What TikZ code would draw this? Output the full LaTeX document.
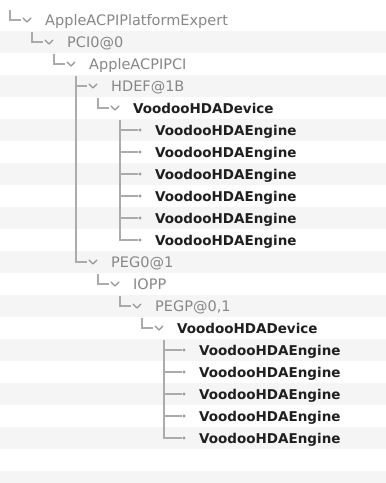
\documentclass[tikz,border=0pt]{standalone}
\usepackage{fontspec}
\setmainfont{DejaVu Sans}
\begin{document}
\begin{tikzpicture}[x=1pt,y=-1pt]
	\tikzstyle{item}=[anchor=west,inner sep=0pt,text height=10pt,text depth=0pt,text=black!47,font=\fontsize{14.5}{16}\selectfont]
	\tikzstyle{itembold}=[item,text=black!88,font=\fontsize{13.5}{16}\selectfont\bfseries]
	\tikzstyle{branch}=[draw=black!33,line width=1.3pt]
	\tikzstyle{chev}=[draw=black!42,line width=1.3pt,line join=round,line cap=round]
	\tikzstyle{dot}=[fill=black!40]
	% background and row stripes
	\fill[white] (0,0) rectangle (386,483);
	\useasboundingbox (0,0) rectangle (386,483);
	\foreach \k in {1,3,...,19}
		\fill[black!4] (0,{9+22*\k}) rectangle (386,{31+22*\k});
	\fill[black!4] (0,471) rectangle (386,483);
	% entries
	\node[item](ape) at (45,20) {AppleACPIPlatformExpert};
	\node[item](pci) at (67,42) {PCI0@0};
	\node[item](acpipci) at (89,64) {AppleACPIPCI};
	\node[item](hdef) at (111,86) {HDEF@1B};
	\node[itembold](dev1) at (133,108) {VoodooHDADevice};
	\node[itembold](e1) at (155,130) {VoodooHDAEngine};
	\node[itembold](e2) at (155,152) {VoodooHDAEngine};
	\node[itembold](e3) at (155,174) {VoodooHDAEngine};
	\node[itembold](e4) at (155,196) {VoodooHDAEngine};
	\node[itembold](e5) at (155,218) {VoodooHDAEngine};
	\node[itembold](e6) at (155,240) {VoodooHDAEngine};
	\node[item](peg) at (111,262) {PEG0@1};
	\node[item](iopp) at (133,284) {IOPP};
	\node[item](pegp) at (155,306) {PEGP@0,1};
	\node[itembold](dev2) at (177,328) {VoodooHDADevice};
	\node[itembold](f1) at (199,350) {VoodooHDAEngine};
	\node[itembold](f2) at (199,372) {VoodooHDAEngine};
	\node[itembold](f3) at (199,394) {VoodooHDAEngine};
	\node[itembold](f4) at (199,416) {VoodooHDAEngine};
	\node[itembold](f5) at (199,438) {VoodooHDAEngine};
	% where each branch starts
	\coordinate (g0) at (10,10);
	\coordinate (g1) at (32,32);
	\coordinate (g2) at (54,54);
	\coordinate (g3) at (76,76);
	\coordinate (g4) at (98,98);
	\coordinate (g5) at (120,120);
	\coordinate (g6) at (98,274);
	\coordinate (g7) at (120,296);
	\coordinate (g8) at (142,318);
	\coordinate (g9) at (164,340);
	% branches to the open entries
	\draw[branch] (g0) |- ([xshift=-24pt]ape.west);
	\draw[branch] (g1) |- ([xshift=-24pt]pci.west);
	\draw[branch] (g2) |- ([xshift=-24pt]acpipci.west);
	\draw[branch] (g3 |- hdef.west) -- ([xshift=-24pt]hdef.west);
	\draw[branch] (g3) |- ([xshift=-24pt]peg.west);
	\draw[branch] (g4) |- ([xshift=-24pt]dev1.west);
	\draw[branch] (g6) |- ([xshift=-24pt]iopp.west);
	\draw[branch] (g7) |- ([xshift=-24pt]pegp.west);
	\draw[branch] (g8) |- ([xshift=-24pt]dev2.west);
	\foreach \n in {ape,pci,acpipci,hdef,dev1,peg,iopp,pegp,dev2}
		\draw[chev] ([xshift=-22pt,yshift=2pt]\n.west) -- ([xshift=-18pt,yshift=-2pt]\n.west) -- ([xshift=-14pt,yshift=2pt]\n.west);
	% branches to the engines
	\draw[branch] (g5) |- ([xshift=-17pt]e6.west);
	\foreach \n in {e1,e2,e3,e4,e5}
		\draw[branch] (g5 |- \n.west) -- ([xshift=-17pt]\n.west);
	\draw[branch] (g9) |- ([xshift=-17pt]f5.west);
	\foreach \n in {f1,f2,f3,f4}
		\draw[branch] (g9 |- \n.west) -- ([xshift=-17pt]\n.west);
	\foreach \n in {e1,e2,e3,e4,e5,e6,f1,f2,f3,f4,f5}
		\fill[dot] ([xshift=-15pt]\n.west) circle (1.7pt);
\end{tikzpicture}
\end{document}
